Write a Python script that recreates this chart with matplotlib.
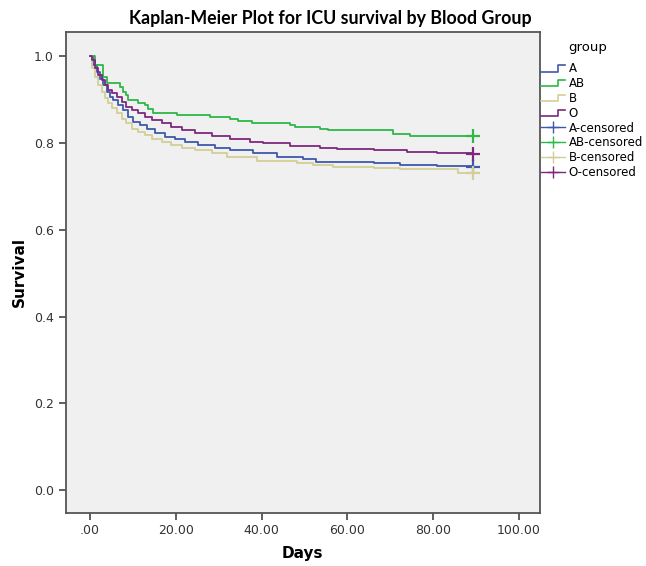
import matplotlib
matplotlib.use("Agg")
import matplotlib.pyplot as plt
from matplotlib.lines import Line2D
from matplotlib.legend_handler import HandlerBase

# survival steps (days, survival)
days_A = [0, 0.8, 1.6, 2.3, 3.1, 3.9, 4.7, 5.4, 6.6, 7.8, 8.9, 10.1, 11.7, 13.2, 15.2,
          17.5, 19.8, 22.2, 25.3, 29.1, 32.6, 38.1, 43.5, 49.7, 52.8, 58.3, 66.1, 72.3,
          80.8, 89.3]
surv_A = [1.0, 0.979, 0.964, 0.948, 0.933, 0.918, 0.906, 0.899, 0.887, 0.876, 0.860,
          0.849, 0.841, 0.833, 0.822, 0.814, 0.808, 0.803, 0.795, 0.788, 0.784, 0.776,
          0.768, 0.764, 0.757, 0.755, 0.753, 0.749, 0.747, 0.745]

days_AB = [0, 1.2, 3.1, 3.9, 7.0, 7.8, 8.5, 8.9, 11.3, 12.8, 13.6, 14.8, 20.2, 28.0,
           32.6, 34.6, 37.7, 46.6, 47.8, 53.6, 55.6, 70.6, 74.6, 89.3]
surv_AB = [1.0, 0.979, 0.952, 0.937, 0.929, 0.918, 0.910, 0.899, 0.891, 0.887, 0.879,
           0.868, 0.864, 0.860, 0.856, 0.851, 0.846, 0.841, 0.837, 0.833, 0.829, 0.820,
           0.815, 0.815]

days_B = [0, 0.4, 1.2, 1.9, 2.7, 3.5, 4.3, 5.1, 6.2, 7.4, 8.5, 9.7, 11.3, 12.8, 14.4,
          16.7, 19.0, 21.4, 24.5, 28.4, 31.9, 38.9, 48.2, 52.1, 56.7, 66.1, 72.3, 85.7,
          89.3]
surv_B = [1.0, 0.972, 0.952, 0.933, 0.918, 0.903, 0.891, 0.880, 0.868, 0.856, 0.845,
          0.833, 0.826, 0.818, 0.810, 0.803, 0.795, 0.789, 0.783, 0.777, 0.768, 0.758,
          0.753, 0.749, 0.745, 0.743, 0.739, 0.730, 0.730]

days_O = [0, 0.4, 1.2, 1.9, 2.7, 3.5, 4.3, 5.1, 6.2, 7.4, 8.5, 9.7, 11.3, 12.8, 14.4,
          16.7, 19.0, 21.4, 24.5, 28.4, 32.6, 37.3, 40.4, 46.6, 53.6, 57.5, 66.1, 73.8,
          80.8, 89.3]
surv_O = [1.0, 0.991, 0.972, 0.956, 0.945, 0.933, 0.922, 0.914, 0.906, 0.895, 0.883,
          0.876, 0.868, 0.860, 0.853, 0.845, 0.837, 0.830, 0.822, 0.816, 0.810, 0.803,
          0.799, 0.793, 0.789, 0.786, 0.783, 0.778, 0.776, 0.774]

groups = ["A", "AB", "B", "O"]
colors = ["#3E58AC", "#2EB848", "#D3CE97", "#7C287D"]
series = [(days_A, surv_A), (days_AB, surv_AB), (days_B, surv_B), (days_O, surv_O)]

x_ticks = [0, 20, 40, 60, 80, 100]
x_labels = [".00", "20.00", "40.00", "60.00", "80.00", "100.00"]
y_ticks = [0.0, 0.2, 0.4, 0.6, 0.8, 1.0]


class StepHandler(HandlerBase):
    # little step glyph like the SPSS legend
    def create_artists(self, legend, orig_handle, xdescent, ydescent, width, height,
                       fontsize, trans):
        x0, x1 = -xdescent, -xdescent + width
        xm = x0 + 0.7 * width
        ylo, yhi = -ydescent + 0.05 * height, -ydescent + 0.85 * height
        line = Line2D([x0, xm, xm, x1], [ylo, ylo, yhi, yhi],
                      color=orig_handle.get_color(), lw=1.2, transform=trans)
        return [line]


fig = plt.figure(figsize=(6.46, 5.66), dpi=100)
ax = fig.add_axes([0.1014, 0.0942, 0.7345, 0.8488])
ax.set_facecolor("#F0F0F0")

step_handles = []
cens_handles = []
for g, c, (d, s) in zip(groups, colors, series):
    ln, = ax.step(d, s, where="post", color=c, lw=1.3)
    ax.plot(d[-1], s[-1], marker="+", color=c, ms=10, mew=1.6, ls="none")
    step_handles.append(ln)
    cens_handles.append(Line2D([], [], color=c, lw=1.0, marker="+", ms=9, mew=1.0))

ax.set_xlim(-5.7, 104.9)
ax.set_ylim(-0.052, 1.055)
ax.set_xticks(x_ticks)
ax.set_xticklabels(x_labels)
ax.set_yticks(y_ticks)
ax.set_yticklabels(["%.1f" % v for v in y_ticks])
ax.tick_params(direction="out", length=5, width=1.2, colors="#444444",
               labelcolor="#333333", labelsize=9)
for sp in ax.spines.values():
    sp.set_color("#555555")
    sp.set_linewidth(1.3)

ax.set_xlabel("Days", fontsize=11, fontweight="bold", labelpad=6)
ax.set_ylabel("Survival", fontsize=11, fontweight="bold", labelpad=5)
fig.suptitle("Kaplan-Meier Plot for ICU survival by Blood Group", x=0.511, y=0.982,
             fontsize=12.8, fontweight="bold", family="Lato")

handles = step_handles + cens_handles
labels = groups + [g + "-censored" for g in groups]
handler_map = {h: StepHandler() for h in step_handles}
fig.text(588 / 646, 1 - 47 / 566, "group", fontsize=9.5, ha="center", va="center")
leg = fig.legend(handles, labels, handler_map=handler_map, loc="upper left",
                 bbox_to_anchor=(541 / 646, 1 - 62 / 566), frameon=False,
                 fontsize=8.5, handlelength=2.0, handletextpad=0.35,
                 labelspacing=0.16, borderaxespad=0, borderpad=0)

fig.savefig("out.png", dpi=100)
